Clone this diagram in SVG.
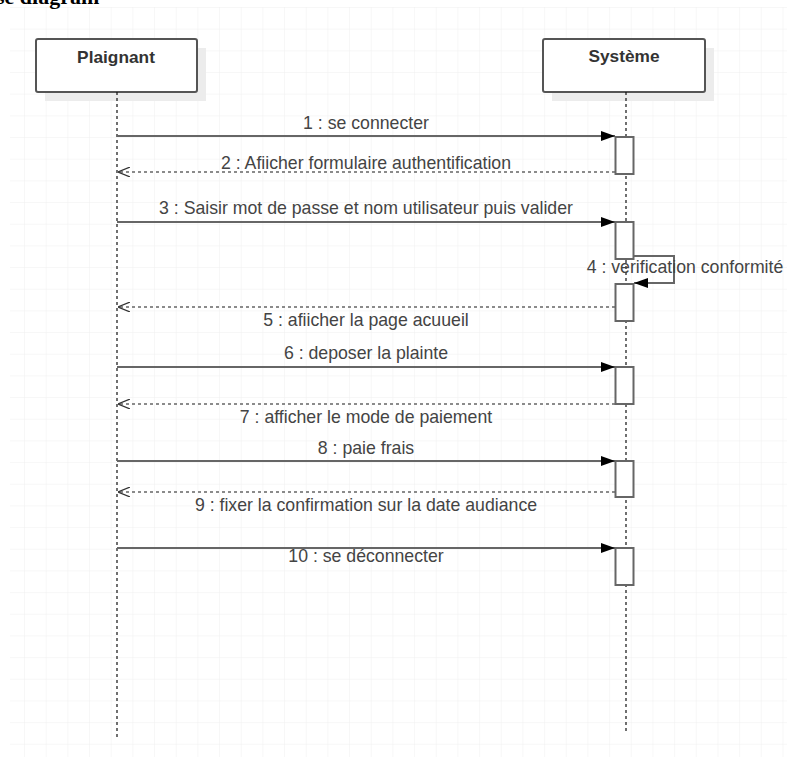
<svg xmlns="http://www.w3.org/2000/svg" width="787" height="757" viewBox="0 0 787 757">
  <defs>
    <pattern id="grid" x="3.33" y="7" width="21.67" height="21.67" patternUnits="userSpaceOnUse">
      <path d="M21.67 0 V21.67 M0 0 H21.67" fill="none" stroke="#f0f0f0" stroke-width="1"/>
    </pattern>
    <marker id="solidHead" viewBox="0 0 14 10" refX="14" refY="5" markerWidth="14" markerHeight="10" markerUnits="userSpaceOnUse" orient="auto">
      <path d="M0 0 L14 5 L0 10 Z" fill="#000"/>
    </marker>
    <marker id="openHead" viewBox="0 0 12 10" refX="12" refY="5" markerWidth="12" markerHeight="10" markerUnits="userSpaceOnUse" orient="auto">
      <path d="M0 0 L12 5 L0 10" fill="none" stroke="#333" stroke-width="1.2"/>
    </marker>
  </defs>
  <style>
    .title { font-family: "Liberation Serif", serif; font-weight: bold; font-size: 22px; fill: #000; }
    .head { fill: #fff; stroke: #555; stroke-width: 2; }
    .shadow { fill: #ececec; }
    .headText { font-family: "Liberation Sans", Arial, sans-serif; font-weight: bold; font-size: 17.3px; fill: #333; text-anchor: middle; }
    .lifeline { stroke: #111; stroke-width: 1.2; stroke-dasharray: 3 3; fill: none; }
    .act { fill: #fff; stroke: #666; stroke-width: 2; }
    .msg { stroke: #666; stroke-width: 2; fill: none; }
    .ret { stroke: #666; stroke-width: 1.5; stroke-dasharray: 3 3; fill: none; }
    .label { font-family: "Liberation Sans", Arial, sans-serif; font-size: 17.7px; fill: #444; text-anchor: middle; }
  </style>

  <rect x="0" y="0" width="787" height="757" fill="#fff"/>
  <rect x="10" y="7" width="777" height="750" fill="url(#grid)"/>

  <text class="title" x="-4" y="4">se diagram</text>

  <!-- participants -->
  <g id="plaignant">
    <rect class="shadow" x="45" y="48" width="161" height="53"/>
    <rect class="head" x="36" y="39" width="161" height="53" rx="2"/>
    <text class="headText" x="116" y="63">Plaignant</text>
    <line class="lifeline" x1="117" y1="92" x2="117" y2="739"/>
  </g>
  <g id="systeme">
    <rect class="shadow" x="552" y="48" width="162" height="53"/>
    <rect class="head" x="543" y="39" width="162" height="53" rx="2"/>
    <text class="headText" x="624" y="62">Système</text>
    <line class="lifeline" x1="626" y1="92" x2="626" y2="732"/>
  </g>

  <!-- activation bars on Système -->
  <g id="activations">
    <rect class="act" x="615.5" y="137" width="18" height="37"/>
    <rect class="act" x="615.5" y="222" width="18" height="37"/>
    <rect class="act" x="615.5" y="284" width="18" height="37"/>
    <rect class="act" x="615.5" y="367" width="18" height="37"/>
    <rect class="act" x="615.5" y="461" width="18" height="36"/>
    <rect class="act" x="615.5" y="548" width="18" height="37"/>
  </g>

  <!-- messages -->
  <g id="connectors">
    <line class="msg" x1="117" y1="136" x2="615" y2="136" marker-end="url(#solidHead)"/>
    <line class="ret" x1="615" y1="172" x2="118" y2="172" marker-end="url(#openHead)"/>
    <line class="msg" x1="117" y1="222" x2="615" y2="222" marker-end="url(#solidHead)"/>
    <polyline class="msg" points="634,256 674,256 674,283 634,283" marker-end="url(#solidHead)"/>
    <line class="ret" x1="615" y1="307" x2="118" y2="307" marker-end="url(#openHead)"/>
    <line class="msg" x1="117" y1="367" x2="615" y2="367" marker-end="url(#solidHead)"/>
    <line class="ret" x1="615" y1="404" x2="118" y2="404" marker-end="url(#openHead)"/>
    <line class="msg" x1="117" y1="461" x2="615" y2="461" marker-end="url(#solidHead)"/>
    <line class="ret" x1="615" y1="492" x2="118" y2="492" marker-end="url(#openHead)"/>
    <line class="msg" x1="117" y1="548" x2="615" y2="548" marker-end="url(#solidHead)"/>
  </g>

  <g id="labels">
    <text class="label" x="366" y="129">1 : se connecter</text>
    <text class="label" x="366" y="169">2 : Afiicher formulaire authentification</text>
    <text class="label" x="366" y="214">3 : Saisir mot de passe et nom utilisateur puis valider</text>
    <text class="label" x="685" y="273">4 : verification conformité</text>
    <text class="label" x="366" y="326">5 : afiicher la page acuueil</text>
    <text class="label" x="366" y="359">6 : deposer la plainte</text>
    <text class="label" x="366" y="423">7 : afficher le mode de paiement</text>
    <text class="label" x="366" y="454">8 : paie frais</text>
    <text class="label" x="366" y="511">9 : fixer la confirmation sur la date audiance</text>
    <text class="label" x="366" y="562">10 : se déconnecter</text>
  </g>
</svg>
